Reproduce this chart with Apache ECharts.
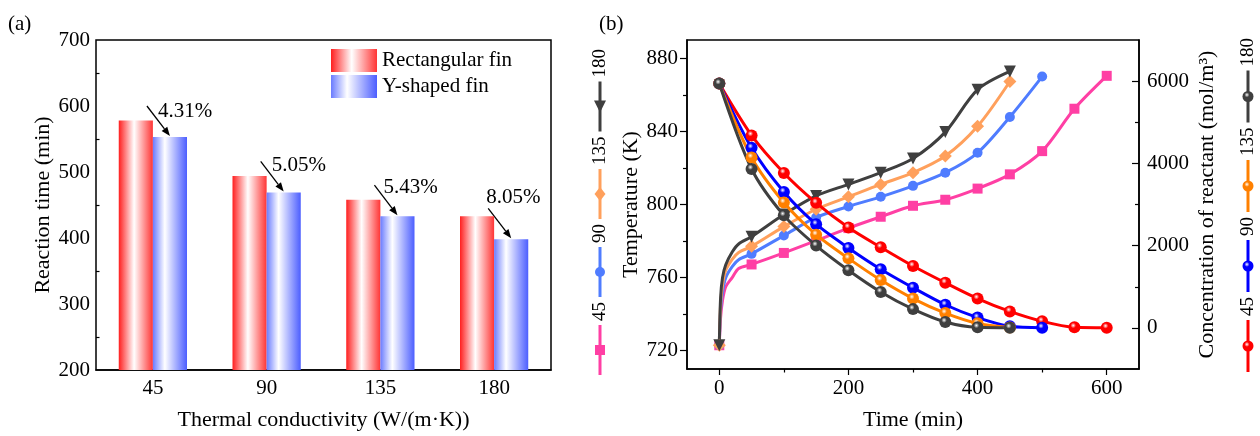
<!DOCTYPE html>
<html><head><meta charset="utf-8">
<script src="https://cdn.jsdelivr.net/npm/echarts@6/dist/echarts.min.js"></script>
<style>html,body{margin:0;padding:0;background:#fff}#c{width:1260px;height:436px}</style>
</head><body><div id="c"></div>
<script>
const FONT = "'Liberation Serif','Times New Roman',serif";

// ---------- Panel (a) data ----------
const conductivity = ['45', '90', '135', '180'];
const rectFinTime = [578, 494, 458, 433];
const yFinTime = [553, 469, 433, 398];
const reductionLabels = ['4.31%', '5.05%', '5.43%', '8.05%'];

// ---------- Panel (b) data ----------
const markerTimes = [0, 50, 100, 150, 200, 250, 300, 350, 400, 450, 500, 550, 600];
const earlyTimes = [2, 5, 10, 20, 30];
const temp45 = [723, 767.2, 773.5, 780.2, 787.1, 793.3, 799.3, 802.6, 808.7, 816.5, 829.2, 852.4, 870.4];
const temp90 = [723, 773, 783, 792.9, 798.9, 804.2, 810.2, 817.4, 828.3, 847.9, 870];
const temp135 = [723, 777.1, 787.9, 797.4, 804.2, 811, 817.4, 826.5, 842.8, 867.3];
const temp180 = [723, 782.4, 794.5, 804.7, 811, 817.4, 825.2, 839.6, 862.8, 872.8];
const temp45Early = [738, 747.5, 755, 760, 765];
const temp90Early = [742, 752, 760, 766, 769.8];
const temp135Early = [745, 756, 764, 770, 773.8];
const temp180Early = [749, 760, 767, 774, 778.4];
const conc45 = [5940, 4680, 3768, 3040, 2441, 1961, 1505, 1097, 713, 400, 160, 15, 5];
const conc90 = [5940, 4378, 3305, 2520, 1944, 1426, 977, 562, 250, 40, 5];
const conc135 = [5940, 4145, 3048, 2266, 1690, 1162, 713, 360, 110, 10];
const conc180 = [5940, 3864, 2736, 2002, 1402, 874, 456, 144, 15, 5];
const seriesLabels = ['45', '90', '135', '180'];
const timeTicks = [0, 200, 400, 600];
const timeMinor = [100, 300, 500];
const tempTicks = [720, 760, 800, 840, 880];
const tempMinor = [740, 780, 820, 860];
const concTicks = [0, 2000, 4000, 6000];
const concMinor = [1000, 3000, 5000];

function lineData(values, early) {
  const d = [[markerTimes[0], values[0]]];
  if (early) early.forEach((v, i) => d.push({ value: [earlyTimes[i], v], symbol: 'none' }));
  for (let i = 1; i < values.length; i++) d.push([markerTimes[i], values[i]]);
  return d;
}
function ball(c) {
  return { type: 'radial', x: 0.4, y: 0.35, r: 0.65,
    colorStops: [{ offset: 0, color: '#ffffff' }, { offset: 0.35, color: c }, { offset: 1, color: c }] };
}

const tempColors = ['#ff3fa4', '#4f7cff', '#ffa05c', '#3f3f3f'];
const tempSymbols = ['rect', 'circle', 'diamond', 'triangle'];
const tempSizes = [10, 10, 13, 12];
const concColors = ['#ff0000', '#0000ff', '#ff8000', '#3f3f3f'];

const tempVals = [temp45, temp90, temp135, temp180];
const tempEarly = [temp45Early, temp90Early, temp135Early, temp180Early];
const concVals = [conc45, conc90, conc135, conc180];

const axisLineStyle = { color: '#000', width: 1.5 };
const labelStyle = { color: '#000', fontSize: 21, fontFamily: FONT };
const nameStyle = { color: '#000', fontSize: 22, fontFamily: FONT };
const plain = v => String(v);

const series = [
  { name: 'Rectangular fin', type: 'bar', xAxisIndex: 0, yAxisIndex: 0, data: rectFinTime,
    barWidth: '30%', barGap: '0%',
    itemStyle: { color: { type: 'linear', x: 0, y: 0, x2: 1, y2: 0,
      colorStops: [{ offset: 0, color: '#ff1f1f' }, { offset: 0.45, color: '#ffffff' }, { offset: 1, color: '#ff3535' }] } } },
  { name: 'Y-shaped fin', type: 'bar', xAxisIndex: 0, yAxisIndex: 0, data: yFinTime,
    barWidth: '30%', barGap: '0%',
    itemStyle: { color: { type: 'linear', x: 0, y: 0, x2: 1, y2: 0,
      colorStops: [{ offset: 0, color: '#6a7bff' }, { offset: 0.35, color: '#ffffff' }, { offset: 1, color: '#4c5eff' }] } } }
];
tempVals.forEach((v, k) => series.push({
  name: 'T' + seriesLabels[k], type: 'line', xAxisIndex: 1, yAxisIndex: 1,
  data: lineData(v, tempEarly[k]), smooth: 0.3,
  symbol: tempSymbols[k], symbolSize: tempSizes[k], symbolRotate: k === 3 ? 180 : 0,
  lineStyle: { color: tempColors[k], width: 3 }, itemStyle: { color: tempColors[k] }, z: 3
}));
concVals.forEach((v, k) => series.push({
  name: 'C' + seriesLabels[k], type: 'line', xAxisIndex: 1, yAxisIndex: 3,
  data: lineData(v, null), smooth: 0.3,
  symbol: 'circle', symbolSize: 12,
  lineStyle: { color: concColors[k], width: 3 }, itemStyle: { color: ball(concColors[k]) }, z: 4
}));

const chart = echarts.init(document.getElementById('c'), null, { renderer: 'canvas' });
chart.setOption({
  animation: false,
  backgroundColor: '#ffffff',
  grid: [
    { left: 96, right: 709, top: 40, bottom: 63, show: true, borderColor: '#000', borderWidth: 1.5 },
    { left: 687, right: 121, top: 40, bottom: 63, show: true, borderColor: '#000', borderWidth: 1.5 }
  ],
  legend: {
    data: ['Rectangular fin', 'Y-shaped fin'], orient: 'vertical', left: 326, top: 44,
    itemWidth: 46, itemHeight: 23, itemGap: 3, icon: 'rect',
    textStyle: { color: '#000', fontSize: 21, fontFamily: FONT }
  },
  xAxis: [
    { type: 'category', gridIndex: 0, data: conductivity,
      axisLine: { onZero: false, lineStyle: axisLineStyle },
      axisTick: { inside: true, length: 5, lineStyle: { color: '#000', width: 1.2 } },
      axisLabel: Object.assign({ margin: 8 }, labelStyle),
      name: 'Thermal conductivity (W/(m·K))', nameLocation: 'middle', nameGap: 39, nameTextStyle: nameStyle },
    { type: 'value', gridIndex: 1, min: -50, max: 650, position: 'bottom',
      axisLine: { onZero: false, lineStyle: axisLineStyle },
      axisTick: { customValues: timeTicks, length: 6, lineStyle: { color: '#000', width: 1.2 } },
      axisLabel: Object.assign({ customValues: timeTicks, margin: 9, formatter: plain }, labelStyle),
      splitLine: { show: false },
      name: 'Time (min)', nameLocation: 'middle', nameGap: 40, nameTextStyle: nameStyle },
    { type: 'value', gridIndex: 1, min: -50, max: 650, position: 'bottom',
      axisLine: { show: false, onZero: false },
      axisTick: { customValues: timeMinor, length: 3.5, lineStyle: { color: '#000', width: 1.2 } },
      axisLabel: { show: false }, splitLine: { show: false } }
  ],
  yAxis: [
    { type: 'value', gridIndex: 0, min: 200, max: 700, interval: 100,
      axisLine: { onZero: false, lineStyle: axisLineStyle },
      axisTick: { inside: true, length: 6, lineStyle: { color: '#000', width: 1.2 } },
      minorTick: { show: true, splitNumber: 2, length: 3.5, lineStyle: { color: '#000', width: 1.2 } },
      axisLabel: Object.assign({ margin: 6 }, labelStyle),
      splitLine: { show: false }, minorSplitLine: { show: false },
      name: 'Reaction time (min)', nameLocation: 'middle', nameGap: 41, nameTextStyle: nameStyle },
    { type: 'value', gridIndex: 1, min: 710, max: 890, position: 'left',
      axisLine: { onZero: false, lineStyle: axisLineStyle },
      axisTick: { customValues: tempTicks, length: 7, lineStyle: { color: '#000', width: 1.2 } },
      axisLabel: Object.assign({ customValues: tempTicks, margin: 9, formatter: plain }, labelStyle),
      splitLine: { show: false },
      name: 'Temperature (K)', nameLocation: 'middle', nameGap: 41, nameTextStyle: nameStyle },
    { type: 'value', gridIndex: 1, min: 710, max: 890, position: 'left',
      axisLine: { show: false, onZero: false },
      axisTick: { customValues: tempMinor, length: 4, lineStyle: { color: '#000', width: 1.2 } },
      axisLabel: { show: false }, splitLine: { show: false } },
    { type: 'value', gridIndex: 1, min: -1000, max: 7000, position: 'right',
      axisLine: { onZero: false, lineStyle: axisLineStyle },
      axisTick: { inside: true, customValues: concTicks, length: 7, lineStyle: { color: '#000', width: 1.2 } },
      axisLabel: Object.assign({ customValues: concTicks, margin: 8, formatter: plain }, labelStyle),
      splitLine: { show: false },
      name: 'Concentration of reactant (mol/m³)', nameLocation: 'middle', nameGap: 57, nameTextStyle: nameStyle },
    { type: 'value', gridIndex: 1, min: -1000, max: 7000, position: 'right',
      axisLine: { show: false, onZero: false },
      axisTick: { inside: true, customValues: concMinor, length: 4, lineStyle: { color: '#000', width: 1.2 } },
      axisLabel: { show: false }, splitLine: { show: false } }
  ],
  series: series
});

// ---------- graphics: panel labels, annotations, rotated legends ----------
const g = [];
g.push({ type: 'text', x: 8, y: 24, style: { text: '(a)', fontSize: 21, fontFamily: FONT, fill: '#000', verticalAlign: 'middle' } });
g.push({ type: 'text', x: 599, y: 24, style: { text: '(b)', fontSize: 21, fontFamily: FONT, fill: '#000', verticalAlign: 'middle' } });

// text offsets relative to arrow start (last label sits above, kept inside the frame)
const labelOffsets = [[11, 5], [11, 4], [9, 2], [-2, -11]];
const cp = (i, v) => chart.convertToPixel({ gridIndex: 0 }, [i, v]);
const band = cp(1, 300)[0] - cp(0, 300)[0];
conductivity.forEach((c, i) => {
  const p = cp(i, yFinTime[i]);
  const ex = p[0] + band * 0.15, ey = p[1] - 1;
  const sx = ex - 23, sy = ey - 30;
  const dx = ex - sx, dy = ey - sy, L = Math.hypot(dx, dy), ux = dx / L, uy = dy / L;
  const hl = 9, hw = 3.5;
  const bx = ex - ux * hl, by = ey - uy * hl;
  g.push({ type: 'line', shape: { x1: sx, y1: sy, x2: bx, y2: by }, style: { stroke: '#000', lineWidth: 1.3 } });
  g.push({ type: 'polygon', shape: { points: [[ex, ey], [bx - uy * hw, by + ux * hw], [bx + uy * hw, by - ux * hw]] }, style: { fill: '#000' } });
  g.push({ type: 'text', x: sx + labelOffsets[i][0], y: sy + labelOffsets[i][1], style: { text: reductionLabels[i], fontSize: 21, fontFamily: FONT, fill: '#000', verticalAlign: 'middle' } });
});

function marker(kind, x, y, color) {
  if (kind === 'rect') return { type: 'rect', shape: { x: x - 5, y: y - 5, width: 10, height: 10 }, style: { fill: color } };
  if (kind === 'circle') return { type: 'circle', shape: { cx: x, cy: y, r: 5 }, style: { fill: color } };
  if (kind === 'diamond') return { type: 'polygon', shape: { points: [[x, y - 7], [x + 5.5, y], [x, y + 7], [x - 5.5, y]] }, style: { fill: color } };
  if (kind === 'triangle') return { type: 'polygon', shape: { points: [[x - 6, y - 6], [x + 6, y - 6], [x, y + 6]] }, style: { fill: color } };
  return { type: 'circle', shape: { cx: x, cy: y, r: 5.5 }, style: { fill: ball(color) } };
}
function vLegend(x, bottom, colors, kinds, lineLen) {
  let y = bottom;
  const fs = 19;
  seriesLabels.forEach((lab, k) => {
    const y1 = y - lineLen;
    g.push({ type: 'line', shape: { x1: x, y1: y, x2: x, y2: y1 }, style: { stroke: colors[k], lineWidth: 3 } });
    g.push(marker(kinds[k], x, (y + y1) / 2, colors[k]));
    const tw = lab.length * fs * 0.5;
    const tc = y1 - 4 - tw / 2;
    g.push({ type: 'text', x: x, y: tc, rotation: Math.PI / 2,
      style: { text: lab, fontSize: fs, fontFamily: FONT, fill: '#000', align: 'center', verticalAlign: 'middle' } });
    y = tc - tw / 2 - 5;
  });
}
vLegend(600, 375, tempColors, tempSymbols, 50);
vLegend(1248, 372, concColors, ['ball', 'ball', 'ball', 'ball'], 52);
chart.setOption({ graphic: g });
</script></body></html>
